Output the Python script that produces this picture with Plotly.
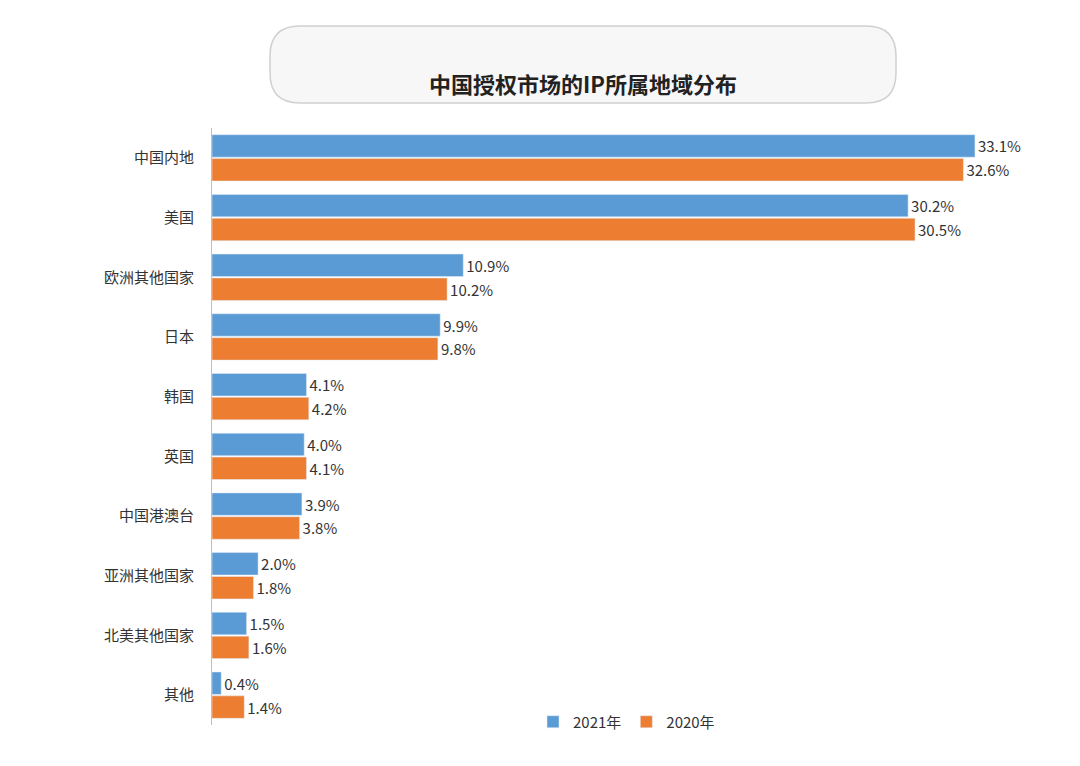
import plotly.graph_objects as go

regions = ["中国内地", "美国", "欧洲其他国家", "日本", "韩国", "英国",
           "中国港澳台", "亚洲其他国家", "北美其他国家", "其他"]
share_2021 = [33.1, 30.2, 10.9, 9.9, 4.1, 4.0, 3.9, 2.0, 1.5, 0.4]
share_2020 = [32.6, 30.5, 10.2, 9.8, 4.2, 4.1, 3.8, 1.8, 1.6, 1.4]

W, H = 1080, 766
ML, MR, MT, MB = 204, 80, 120, 49
pw, ph = W - ML - MR, H - MT - MB


def px(x):
    return (x - ML) / pw


def py(y):
    return (H - MB - y) / ph


fig = go.Figure()
fig.add_trace(go.Bar(y=regions, x=share_2021, orientation="h", name="2021年",
                     marker_color="#5B9BD5",
                     text=[f"{v:.1f}%" for v in share_2021], textposition="outside",
                     textfont=dict(size=15, color="#333"), cliponaxis=False))
fig.add_trace(go.Bar(y=regions, x=share_2020, orientation="h", name="2020年",
                     marker_color="#ED7D31",
                     text=[f"{v:.1f}%" for v in share_2020], textposition="outside",
                     textfont=dict(size=15, color="#333"), cliponaxis=False))

# rounded title box
x0, x1, y0, y1, r = 262, 888, 18, 95, 30
path = (f"M {px(x0 + r)},{py(y0)} L {px(x1 - r)},{py(y0)} "
        f"Q {px(x1)},{py(y0)} {px(x1)},{py(y0 + r)} L {px(x1)},{py(y1 - r)} "
        f"Q {px(x1)},{py(y1)} {px(x1 - r)},{py(y1)} L {px(x0 + r)},{py(y1)} "
        f"Q {px(x0)},{py(y1)} {px(x0)},{py(y1 - r)} L {px(x0)},{py(y0 + r)} "
        f"Q {px(x0)},{py(y0)} {px(x0 + r)},{py(y0)} Z")
fig.add_shape(type="path", path=path, xref="paper", yref="paper",
              line=dict(color="#d0d0d0", width=1.5), fillcolor="#f7f7f7", layer="below")
fig.add_annotation(text="<b>中国授权市场的IP所属地域分布</b>", xref="paper", yref="paper",
                   x=px(575), y=py(57), showarrow=False,
                   font=dict(size=22, color="#222"))

fig.update_layout(
    width=W, height=H, barmode="group", bargap=0.2, bargroupgap=0.06,
    margin=dict(l=ML, r=MR, t=MT, b=MB),
    paper_bgcolor="white", plot_bgcolor="white",
    font=dict(family="Noto Sans CJK SC", size=15, color="#333"),
    xaxis=dict(range=[0, pw / 23.05], visible=False),
    yaxis=dict(autorange="reversed", showline=True, linecolor="#bfbfbf",
               ticks="", ticklabelstandoff=14),
    legend=dict(orientation="h", x=px(525), y=py(714), xanchor="left", yanchor="middle",
                font=dict(size=15), itemwidth=30, bgcolor="rgba(0,0,0,0)"),
)
fig.write_html("out.html")
